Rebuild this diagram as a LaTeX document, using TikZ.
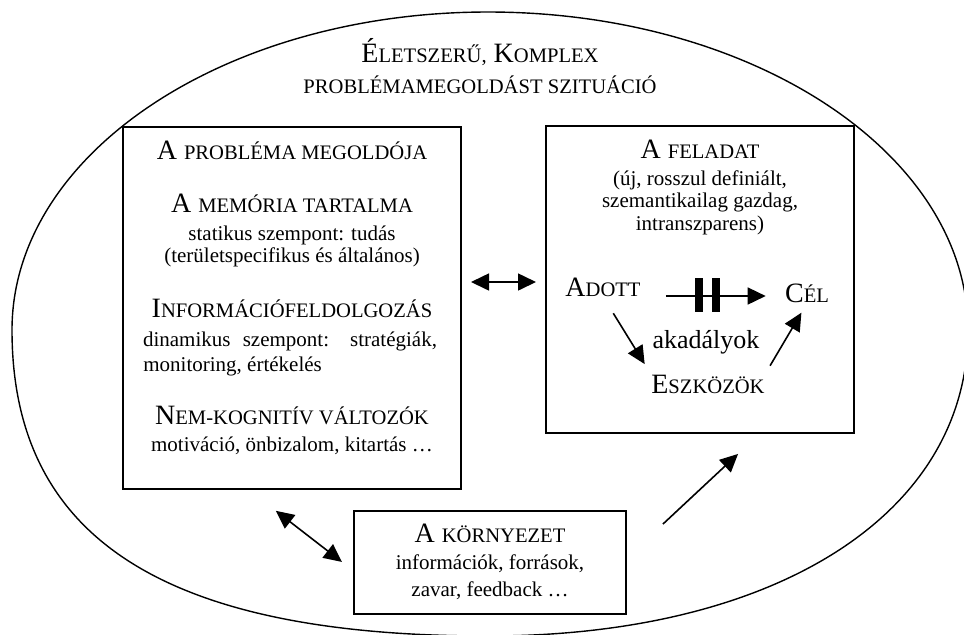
\documentclass[tikz,border=0pt]{standalone}
\usepackage{fontspec}
\setmainfont{Liberation Serif}
\usetikzlibrary{arrows.meta}
\newcommand{\kis}[1]{{\fontsize{10.3pt}{12pt}\selectfont #1}}
\tikzset{
  box/.style={draw, line width=1pt, inner sep=0pt},
  fej/.style={font=\fontsize{14pt}{16pt}\selectfont, anchor=base, inner sep=0pt},
  szov/.style={font=\fontsize{10.5pt}{12pt}\selectfont, anchor=base, inner sep=0pt},
  nyil/.style={-{Triangle[length=9pt,width=8.5pt]}, line width=0.8pt},
  kettos/.style={{Triangle[length=9pt,width=8.5pt]}-{Triangle[length=9pt,width=8.5pt]}, line width=0.8pt}
}
\begin{document}
\begin{tikzpicture}[x=0.5pt,y=-0.5pt]
        \useasboundingbox (0,0) rectangle (964,634);
        \draw[line width=0.7pt] (12,330) .. controls (12,154) and (225,12) .. (488,12)
          .. controls (753,12) and (968,154) .. (968,330)
          .. controls (968,514) and (776,636) .. (488,636)
          .. controls (164,636) and (12,538) .. cycle;
        \node[fej] (cim1) at (480,62) {É\kis{LETSZERŰ,} K\kis{OMPLEX}};
        \node[fej] (cim2) at (480,93) {\kis{PROBLÉMAMEGOLDÁST SZITUÁCIÓ}};
        \node[box, minimum width=169pt, minimum height=181pt] (megoldo) at (292,308) {};
        \node[box, minimum width=154pt, minimum height=153.5pt] (feladat) at (700,279.5) {};
        \node[box, minimum width=136pt, minimum height=51.5pt] (kornyezet) at (490,562.5) {};
        \node[fej] (m1) at (292,159) {A \kis{PROBLÉMA MEGOLDÓJA}};
        \node[fej] (m2) at (292,212) {A \kis{MEMÓRIA TARTALMA}};
        \node[szov] (m3) at (292,240) {statikus szempont: tudás};
        \node[szov] (m4) at (292,262) {(területspecifikus és általános)};
        \node[fej] (m5) at (292,317) {I\kis{NFORMÁCIÓFELDOLGOZÁS}};
        \node[szov] (m6) at (290,346) {\makebox[147pt][s]{dinamikus szempont: stratégiák,}};
        \node[szov, anchor=base west] (m7) at (143,371) {monitoring, értékelés};
        \node[fej] (m8) at (292,424) {N\kis{EM-KOGNITÍV VÁLTOZÓK}};
        \node[szov] (m9) at (292,451) {motiváció, önbizalom, kitartás …};
        \node[fej] (f1) at (700,158) {A \kis{FELADAT}};
        \node[szov] (f2) at (700,185) {(új, rosszul definiált,};
        \node[szov] (f3) at (700,207) {szemantikailag gazdag,};
        \node[szov] (f4) at (700,230) {intranszparens)};
        \node[fej] (adott) at (603,296) {A\kis{DOTT}};
        \node[fej] (cel) at (807,302.5) {C\kis{ÉL}};
        \node[fej, font=\fontsize{13pt}{15pt}\selectfont] (akad) at (706,348) {akadályok};
        \node[fej] (eszk) at (708,393) {E\kis{SZKÖZÖK}};
        \node[fej] (k1) at (490,542) {A \kis{KÖRNYEZET}};
        \node[szov] (k2) at (490,569) {információk, források,};
        \node[szov] (k3) at (490,596) {zavar, feedback …};
        \draw[nyil, shorten <=12.5pt, shorten >=9.5pt] (adott.base east) -- (cel.west |- adott.base east);
        \fill (695,278) rectangle (703,312);
        \fill (712,278) rectangle (720,312);
        \draw[nyil, shorten <=9.8pt, shorten >=6pt] (adott.south) -- (eszk.north west);
        \draw[nyil, shorten <=5pt, shorten >=5.5pt] (eszk.north east) -- (cel.south);
        \draw[kettos, shorten <=4.5pt, shorten >=4.5pt] (megoldo.east |- 0,282) -- (feladat.west |- 0,282);
        \draw[kettos, shorten <=17pt, shorten >=7pt] (megoldo.south -| 249,0) -- (kornyezet.west |- 0,570.5);
        \draw[nyil, shorten <=24.6pt, shorten >=14.6pt] (kornyezet.east |- 0,557.6) -- (feladat.south -| 759.4,0);
\end{tikzpicture}
\end{document}
